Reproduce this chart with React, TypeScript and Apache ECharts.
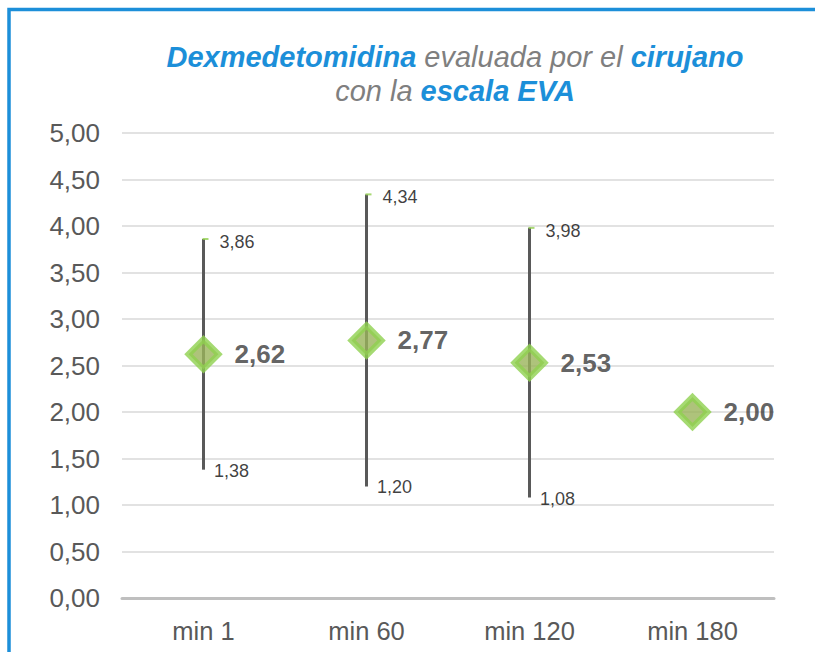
import React, { useEffect, useRef } from "react";
import * as echarts from "echarts";

const categories = ["min 1", "min 60", "min 120", "min 180"];
const means = [2.62, 2.77, 2.53, 2.0];
const highs: (number | null)[] = [3.86, 4.34, 3.98, null];
const lows: (number | null)[] = [1.38, 1.2, 1.08, null];
const yMin = 0;
const yMax = 5;
const yStep = 0.5;

const FONT = "'Liberation Sans', Arial, sans-serif";
const BLUE = "#1c8fd9";
const GRAY_T = "#7f7f7f";

const fmt = (v: number) => v.toFixed(2).replace(".", ",");

export default function App() {
  const ref = useRef<HTMLDivElement>(null);
  useEffect(() => {
    if (!ref.current) return;
    const chart = echarts.init(ref.current, null, { renderer: "svg" });
    const rangeData: any[] = [];
    categories.forEach((c, i) => {
      if (highs[i] != null && lows[i] != null) rangeData.push([i, highs[i], lows[i]]);
    });
    const highData = highs.map((v, i) => (v == null ? [i, "-"] : [i, v]));
    const lowData = lows.map((v, i) => (v == null ? [i, "-"] : [i, v]));

    chart.setOption({
      animation: false,
      backgroundColor: "#ffffff",
      graphic: [
        {
          type: "rect",
          shape: { x: 9, y: 9.5, width: 900, height: 900 },
          style: { fill: "none", stroke: BLUE, lineWidth: 3.5 },
          silent: true,
        },
        {
          type: "text",
          x: 455,
          y: 40,
          style: {
            text:
              "{b|Dexmedetomidina} {g|evaluada por el} {b|cirujano}\n{g|con la} {b|escala EVA}",
            align: "center",
            verticalAlign: "top",
            font: `italic 29px ${FONT}`,
            rich: {
              b: {
                fontFamily: FONT,
                fontSize: 29,
                fontStyle: "italic",
                fontWeight: "bold",
                fill: BLUE,
                color: BLUE,
                lineHeight: 34,
              },
              g: {
                fontFamily: FONT,
                fontSize: 29,
                fontStyle: "italic",
                fontWeight: "normal",
                fill: GRAY_T,
                color: GRAY_T,
                lineHeight: 34,
              },
            },
          },
        },
      ],
      grid: {
        left: 122,
        right: 41,
        top: 133,
        bottom: 54,
        containLabel: false,
        outerBoundsMode: "none",
      },
      xAxis: {
        type: "category",
        data: categories,
        boundaryGap: true,
        axisTick: { show: false },
        axisLine: { show: true, lineStyle: { color: "#bfbfbf", width: 3 } },
        axisLabel: {
          margin: 20,
          fontSize: 25.5,
          fontFamily: FONT,
          color: "#595959",
        },
        splitLine: { show: false },
      },
      yAxis: {
        type: "value",
        min: yMin,
        max: yMax,
        interval: yStep,
        axisLine: { show: false },
        axisTick: { show: false },
        axisLabel: {
          margin: 22,
          fontSize: 26,
          fontFamily: FONT,
          color: "#595959",
          formatter: (v: number) => fmt(v),
        },
        splitLine: { lineStyle: { color: "#d9d9d9", width: 1.5 } },
      },
      series: [
        {
          type: "custom",
          z: 2,
          data: rangeData,
          encode: { x: 0, y: [1, 2] },
          renderItem: (params: any, api: any) => {
            const x = api.value(0);
            const p1 = api.coord([x, api.value(1)]);
            const p2 = api.coord([x, api.value(2)]);
            return {
              type: "line",
              shape: { x1: p1[0], y1: p1[1], x2: p2[0], y2: p2[1] },
              style: { stroke: "#595959", lineWidth: 3 },
            };
          },
        },
        {
          type: "scatter",
          z: 3,
          data: highData,
          symbol: "rect",
          symbolSize: [6, 2],
          symbolOffset: [2, 0],
          itemStyle: { color: "#92d050" },
          label: {
            show: true,
            position: "right",
            distance: 11,
            offset: [0, 3],
            fontSize: 18,
            fontFamily: FONT,
            color: "#0d0d0d",
            formatter: (p: any) => fmt(p.value[1]),
          },
        },
        {
          type: "scatter",
          z: 3,
          data: lowData,
          symbol: "rect",
          symbolSize: 1,
          itemStyle: { color: "rgba(0,0,0,0)" },
          label: {
            show: true,
            position: "right",
            distance: 10,
            offset: [0, 1],
            fontSize: 18,
            fontFamily: FONT,
            color: "#0d0d0d",
            formatter: (p: any) => fmt(p.value[1]),
          },
        },
        {
          type: "scatter",
          z: 4,
          data: means.map((v, i) => [i, v]),
          symbol: "diamond",
          symbolSize: 30,
          itemStyle: {
            color: "#9ab45a",
            borderColor: "#8fd14f",
            borderWidth: 6,
          },
          label: {
            show: true,
            position: "right",
            distance: 13,
            fontSize: 26,
            fontWeight: "bold",
            fontFamily: FONT,
            color: "#3a3a3a",
            formatter: (p: any) => fmt(p.value[1]),
          },
        },
      ],
    });
    return () => chart.dispose();
  }, []);
  return (
    <div
      ref={ref}
      style={{ position: "absolute", left: 0, top: 0, width: 815, height: 652 }}
    />
  );
}
